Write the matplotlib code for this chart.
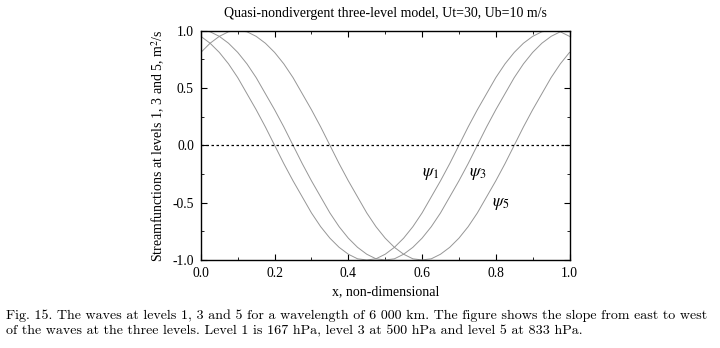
import matplotlib
matplotlib.use("Agg")
import matplotlib.pyplot as plt
from matplotlib.ticker import MultipleLocator, FormatStrFormatter

x_vals = [i / 40 for i in range(41)]
psi1 = [0.95, 0.89, 0.81, 0.71, 0.59, 0.45, 0.31, 0.16, 0.00, -0.16,
        -0.31, -0.45, -0.59, -0.71, -0.81, -0.89, -0.95, -0.99, -1.00, -0.99,
        -0.95, -0.89, -0.81, -0.71, -0.59, -0.45, -0.31, -0.16, 0.00, 0.16,
        0.31, 0.45, 0.59, 0.71, 0.81, 0.89, 0.95, 0.99, 1.00, 0.99, 0.95]
psi3 = [1.00, 0.99, 0.95, 0.89, 0.81, 0.71, 0.59, 0.45, 0.31, 0.16,
        0.00, -0.16, -0.31, -0.45, -0.59, -0.71, -0.81, -0.89, -0.95, -0.99,
        -1.00, -0.99, -0.95, -0.89, -0.81, -0.71, -0.59, -0.45, -0.31, -0.16,
        0.00, 0.16, 0.31, 0.45, 0.59, 0.71, 0.81, 0.89, 0.95, 0.99, 1.00]
psi5 = [0.81, 0.89, 0.95, 0.99, 1.00, 0.99, 0.95, 0.89, 0.81, 0.71,
        0.59, 0.45, 0.31, 0.16, 0.00, -0.16, -0.31, -0.45, -0.59, -0.71,
        -0.81, -0.89, -0.95, -0.99, -1.00, -0.99, -0.95, -0.89, -0.81, -0.71,
        -0.59, -0.45, -0.31, -0.16, 0.00, 0.16, 0.31, 0.45, 0.59, 0.71, 0.81]

curve_labels = [r"$\psi_1$", r"$\psi_3$", r"$\psi_5$"]
label_pos = [(0.622, -0.25), (0.752, -0.25), (0.812, -0.51)]

plt.rcParams["font.family"] = ["Liberation Serif", "DejaVu Serif"]
plt.rcParams["mathtext.fontset"] = "stix"
plt.rcParams["axes.unicode_minus"] = False

fig = plt.figure(figsize=(7.2, 3.48), dpi=100)
ax = fig.add_axes([0.279, 0.253, 0.512, 0.659])

for ys in (psi1, psi3, psi5):
    ax.plot(x_vals, ys, color="#969696", lw=0.7)
ax.axhline(0.0, color="black", lw=0.9, ls=(0, (2, 2)))

for lab, (lx, ly) in zip(curve_labels, label_pos):
    ax.text(lx, ly, lab, fontsize=12.5, ha="center", va="center")

ax.set_xlim(0, 1)
ax.set_ylim(-1, 1)
ax.xaxis.set_major_locator(MultipleLocator(0.2))
ax.xaxis.set_minor_locator(MultipleLocator(0.1))
ax.yaxis.set_major_locator(MultipleLocator(0.5))
ax.yaxis.set_minor_locator(MultipleLocator(0.25))
ax.xaxis.set_major_formatter(FormatStrFormatter("%.1f"))
ax.yaxis.set_major_formatter(FormatStrFormatter("%.1f"))
ax.tick_params(which="both", direction="in", top=True, right=True, labelsize=9.8, pad=5)
ax.tick_params(which="major", length=4)
ax.tick_params(which="minor", length=2.5)
for s in ax.spines.values():
    s.set_linewidth(1.0)

ax.set_title("Quasi-nondivergent three-level model, Ut=30, Ub=10 m/s", fontsize=10, pad=10)
ax.set_xlabel("x, non-dimensional", fontsize=10, labelpad=4)
ax.set_ylabel(r"Streamfunctions at levels 1, 3 and 5, m$^2$/s", fontsize=10, labelpad=4)

caption = ("Fig. 15. The waves at levels 1, 3 and 5 for a wavelength of 6 000 km. The figure shows the slope from east to west\n"
           "of the waves at the three levels. Level 1 is 167 hPa, level 3 at 500 hPa and level 5 at 833 hPa.")
fig.text(0.008, 0.071, caption, fontsize=10.1, family="cmr10", va="center", ha="left", linespacing=1.3)

fig.savefig("out.png", dpi=100)
